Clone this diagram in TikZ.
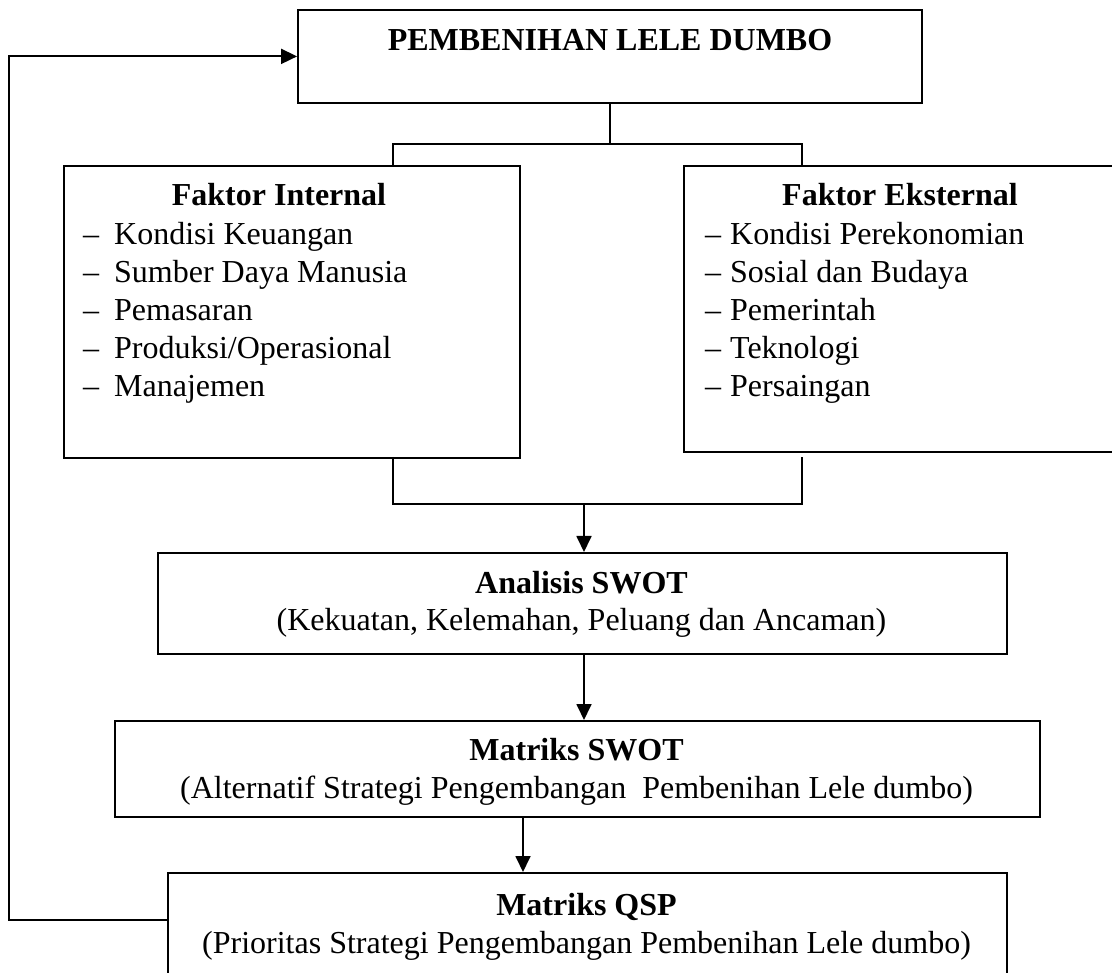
\documentclass[tikz,border=0pt]{standalone}
\usepackage{fontspec}
\setmainfont{Liberation Serif}
\usetikzlibrary{arrows.meta}
\begin{document}
\begin{tikzpicture}[x=1pt,y=-1pt,
  box/.style={draw, line width=1.8pt, inner sep=0pt, rectangle},
  txt/.style={inner sep=0pt, font=\fontsize{32}{38}\selectfont},
  bold/.style={inner sep=0pt, font=\fontsize{32}{38}\selectfont\bfseries},
  conn/.style={draw, line width=1.8pt},
  arr/.style={conn, -{Triangle[length=16pt,width=15pt]}}]
\useasboundingbox (0,0) rectangle (1112,973);
\clip (0,0) rectangle (1112,973);

% top box
\node[box, bold, minimum width=624, text height=41, text depth=52, anchor=north] (top) at (610,9) {PEMBENIHAN LELE DUMBO};

% factor boxes
\node[box, minimum width=456, minimum height=292, anchor=north west] (intbox) at (63,165) {};
\node[box, minimum width=460, minimum height=286, anchor=north west] (extbox) at (683,165) {};
\node[bold, anchor=base] (inthead) at (279,206) {Faktor Internal};
\node[bold, anchor=base] (exthead) at (900,206) {Faktor Eksternal};
\foreach \t [count=\n from 0] in {Kondisi Keuangan, Sumber Daya Manusia, Pemasaran, Produksi/Operasional, Manajemen}
  \node[txt, anchor=base west] (int\n) at (83,{245+38*\n}) {\textendash\hspace{15pt}\t};
\foreach \t [count=\n from 0] in {Kondisi Perekonomian, Sosial dan Budaya, Pemerintah, Teknologi, Persaingan}
  \node[txt, anchor=base west] (ext\n) at (705,{245+38*\n}) {\textendash\hspace{9pt}\t};

% analysis boxes
\node[box, minimum width=849, minimum height=101, anchor=north west] (swot) at (157,552) {};
\node[bold, anchor=base] (swota) at (581.5,593) {Analisis SWOT};
\node[txt, anchor=base] (swotb) at (581.5,630) {(Kekuatan, Kelemahan, Peluang dan Ancaman)};

\node[box, minimum width=925, minimum height=96, anchor=north west] (mswot) at (114,720) {};
\node[bold, anchor=base] (mswota) at (576.5,760) {Matriks SWOT};
\node[txt, anchor=base] (mswotb) at (576.5,798) {(Alternatif Strategi Pengembangan\ \ Pembenihan Lele dumbo)};

\node[box, minimum width=839, minimum height=130, anchor=north west] (qsp) at (167,872) {};
\node[bold, anchor=base] (qspa) at (586.5,915) {Matriks QSP};
\node[txt, anchor=base] (qspb) at (586.5,953) {(Prioritas Strategi Pengembangan Pembenihan Lele dumbo)};

% connectors
\coordinate (jt) at (610,144);
\coordinate (ia) at (393,165);
\coordinate (ea) at (802,165);
\draw[conn] (top.south) -- (jt);
\draw[conn] (ia) |- (jt) -| (ea);
\coordinate (ib) at (393,457);
\coordinate (eb) at (802,457);
\coordinate (jb) at (584,504);
\draw[conn] (ib) |- (jb) -| (eb);
\draw[arr] (jb) -- (jb |- swot.north);
\draw[arr] (jb |- swot.south) -- (jb |- mswot.north);
\coordinate (m1) at (523,816);
\draw[arr] (m1) -- (m1 |- qsp.north);
\coordinate (fb) at (167,920);
\coordinate (lc) at (9,920);
\draw[arr] (fb) -- (lc) |- (top.west);
\end{tikzpicture}
\end{document}
